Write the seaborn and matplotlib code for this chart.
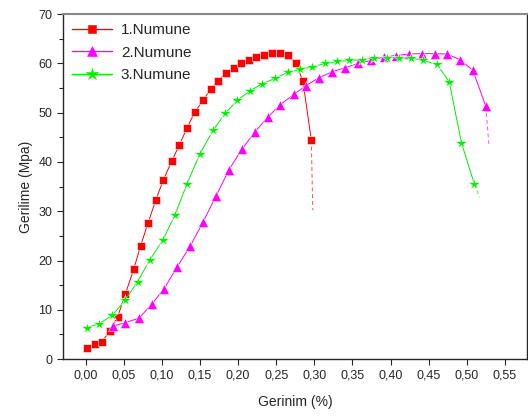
import pandas as pd
import matplotlib
matplotlib.use("Agg")
import matplotlib.pyplot as plt
from matplotlib.ticker import MultipleLocator
import seaborn as sns

# (strain in %, stress in MPa)
strain_1 = [0.002, 0.012, 0.021, 0.032, 0.042, 0.052, 0.063, 0.072, 0.082, 0.092,
            0.102, 0.113, 0.123, 0.133, 0.143, 0.154, 0.164, 0.174, 0.184, 0.194,
            0.204, 0.214, 0.224, 0.234, 0.244, 0.255, 0.265, 0.276, 0.285, 0.296]
stress_1 = [2.2, 3.0, 3.5, 5.7, 8.6, 13.2, 18.2, 23.0, 27.7, 32.3,
            36.4, 40.2, 43.5, 46.9, 50.1, 52.5, 54.8, 56.5, 58.1, 59.0,
            60.0, 60.7, 61.4, 61.7, 62.2, 62.2, 61.7, 60.0, 56.4, 44.5]

strain_2 = [0.036, 0.052, 0.070, 0.087, 0.103, 0.120, 0.137, 0.154, 0.171, 0.188,
            0.205, 0.222, 0.239, 0.255, 0.273, 0.289, 0.306, 0.323, 0.340, 0.357,
            0.374, 0.391, 0.407, 0.424, 0.441, 0.458, 0.474, 0.491, 0.508, 0.525]
stress_2 = [6.7, 7.4, 8.3, 11.2, 14.3, 18.7, 22.9, 27.8, 33.1, 38.4,
            42.6, 46.1, 49.1, 51.6, 53.7, 55.5, 57.1, 58.3, 59.1, 60.0,
            60.6, 61.3, 61.6, 61.9, 62.0, 62.0, 61.9, 60.8, 58.6, 51.3]

strain_3 = [0.002, 0.018, 0.035, 0.052, 0.068, 0.084, 0.101, 0.117, 0.133, 0.150,
            0.167, 0.183, 0.199, 0.216, 0.232, 0.249, 0.265, 0.281, 0.297, 0.314,
            0.330, 0.346, 0.363, 0.378, 0.395, 0.411, 0.427, 0.443, 0.461, 0.477,
            0.493, 0.510]
stress_3 = [6.4, 7.2, 8.9, 12.0, 15.7, 20.1, 24.1, 29.2, 35.6, 41.7,
            46.4, 49.9, 52.5, 54.5, 55.9, 57.0, 58.2, 58.8, 59.3, 60.0,
            60.4, 60.6, 60.8, 61.2, 61.2, 61.2, 61.1, 60.6, 59.8, 56.3,
            43.9, 35.5]

# fracture tails (line only, no markers)
tail_1_x = [0.296, 0.298]
tail_1_y = [44.5, 30.2]
tail_2_x = [0.525, 0.529]
tail_2_y = [51.3, 43.7]
tail_3_x = [0.510, 0.517]
tail_3_y = [35.5, 32.8]

names = ["1.Numune", "2.Numune", "3.Numune"]
colors = {"1.Numune": "#ff0000", "2.Numune": "#ff00ff", "3.Numune": "#00ee00"}
markers = {"1.Numune": "s", "2.Numune": "^", "3.Numune": "*"}
# marker sizes per sample, the star looks smaller at the same size
msizes = {"#ff0000": 6, "#ff00ff": 7, "#00ee00": 9}

df = pd.concat([
    pd.DataFrame({"Gerinim": strain_1, "Gerilme": stress_1, "Numune": names[0]}),
    pd.DataFrame({"Gerinim": strain_2, "Gerilme": stress_2, "Numune": names[1]}),
    pd.DataFrame({"Gerinim": strain_3, "Gerilme": stress_3, "Numune": names[2]}),
])

sns.set_style("ticks")
plt.rcParams['font.family'] = ['Liberation Sans', 'DejaVu Sans']

fig = plt.figure(figsize=(5.28, 4.17), dpi=100)
ax = fig.add_axes([0.119, 0.139, 0.879, 0.827])

sns.lineplot(data=df, x="Gerinim", y="Gerilme", hue="Numune", style="Numune",
             palette=colors, markers=markers, dashes=False, sort=False,
             estimator=None, linewidth=0.7, markersize=6, markeredgewidth=0.4,
             ax=ax, legend=False)

# thin tails after the last marker
for tx, ty, n in [(tail_1_x, tail_1_y, names[0]), (tail_2_x, tail_2_y, names[1]),
                  (tail_3_x, tail_3_y, names[2])]:
    ax.plot(tx, ty, color=colors[n], linewidth=0.7, alpha=0.7, linestyle=(0, (4, 3)))

# make the connecting lines lighter, like the original smoothed curves
handles = []
for n in names:
    handles.append(plt.Line2D([], [], color=colors[n], marker=markers[n],
                              markersize=msizes[colors[n]], linewidth=1.0,
                              markeredgewidth=0.4, label=n))
for line in ax.lines:
    c = matplotlib.colors.to_hex(line.get_color())
    if line.get_marker() not in (None, "None", ""):
        line.set_markersize(msizes.get(c, 6))

ax.set_xlim(-0.03, 0.579)
ax.set_ylim(0, 70)
ax.yaxis.set_major_locator(MultipleLocator(10))
ax.yaxis.set_minor_locator(MultipleLocator(5))
ax.set_xticks([i * 0.05 for i in range(12)])
ax.set_xticklabels([f"{i * 0.05:.2f}".replace(".", ",") for i in range(12)])
ax.tick_params(axis="both", labelsize=9, direction="out", length=4, width=0.8)
ax.tick_params(axis="y", which="minor", length=3, width=0.8)
for s in ax.spines.values():
    s.set_visible(True)
    s.set_linewidth(1.0)
ax.spines["top"].set_color("#888888")
ax.spines["top"].set_linewidth(1.5)

ax.set_xlabel("Gerinim (%)", fontsize=10, labelpad=10)
ax.set_ylabel("Gerilime (Mpa)", fontsize=10, labelpad=4)

ax.legend(handles=handles, loc="upper left", frameon=False, fontsize=11,
          handlelength=2.6, borderaxespad=0.2, labelspacing=0.55, handletextpad=0.6)

fig.savefig("out.png", dpi=100)
